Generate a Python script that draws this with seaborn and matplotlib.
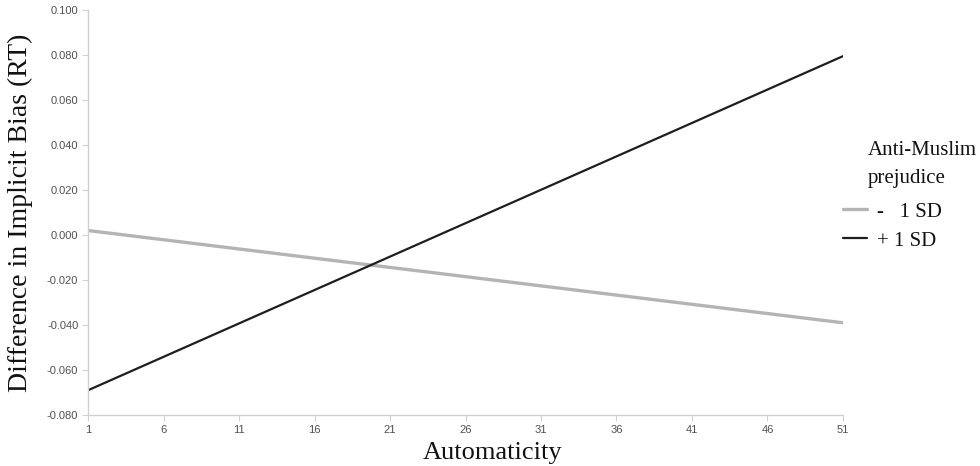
import matplotlib
matplotlib.use("Agg")
import matplotlib.pyplot as plt
import seaborn as sns
import pandas as pd
from matplotlib.lines import Line2D

# Data
automaticity = [1, 51]
low_prejudice = [0.002, -0.039]    # -1 SD
high_prejudice = [-0.069, 0.0795]  # +1 SD
series_labels = ["-   1 SD", "+ 1 SD"]
legend_title = ["Anti-Muslim", "prejudice"]
x_ticks = [1, 6, 11, 16, 21, 26, 31, 36, 41, 46, 51]
y_ticks = [-0.08, -0.06, -0.04, -0.02, 0.0, 0.02, 0.04, 0.06, 0.08, 0.10]

df = pd.DataFrame({
    "Automaticity": automaticity * 2,
    "Bias": low_prejudice + high_prejudice,
    "Group": [series_labels[0]] * 2 + [series_labels[1]] * 2,
})

colors = {series_labels[0]: "#b4b4b4", series_labels[1]: "#1e1e1e"}
widths = {series_labels[0]: 2.4, series_labels[1]: 1.6}

sns.set_style("white")
fig = plt.figure(figsize=(9.8, 4.66), dpi=100)
ax = fig.add_axes([0.0898, 0.1094, 0.7704, 0.8691])

sns.lineplot(data=df, x="Automaticity", y="Bias", hue="Group",
             palette=colors, ax=ax, legend=False)
for line, lab in zip(ax.lines, series_labels):
    line.set_linewidth(widths[lab])

ax.set_xlim(1, 51)
ax.set_ylim(-0.08, 0.10)
ax.set_xticks(x_ticks)
ax.set_xticklabels([str(t) for t in x_ticks])
ax.set_yticks(y_ticks)
ax.set_yticklabels([f"{t:.3f}" for t in y_ticks])

for side in ["top", "right"]:
    ax.spines[side].set_visible(False)
for side in ["left", "bottom"]:
    ax.spines[side].set_color("#d0d0d0")
    ax.spines[side].set_linewidth(1.0)

ax.tick_params(axis="both", which="major", length=4, width=0.8, color="#d0d0d0",
               labelsize=8, labelcolor="#505050", direction="out", pad=3,
               bottom=True, left=True)
for lbl in ax.get_xticklabels() + ax.get_yticklabels():
    lbl.set_fontfamily("Liberation Sans")

ax.set_xlabel("Automaticity", fontfamily="Liberation Serif", fontsize=19, color="#111111")
ax.set_ylabel("Difference in Implicit Bias (RT)", fontfamily="Liberation Serif", fontsize=20,
              color="#111111")
ax.xaxis.set_label_coords(0.536, -0.066)
ax.yaxis.set_label_coords(-0.073, 0.5)

# Legend title
fig.text(868 / 980, 1 - 150 / 466, legend_title[0], fontfamily="Liberation Serif",
         fontsize=15, va="center", ha="left", color="#111111")
fig.text(868 / 980, 1 - 178 / 466, legend_title[1], fontfamily="Liberation Serif",
         fontsize=15, va="center", ha="left", color="#111111")

handles = [Line2D([], [], color=colors[l], lw=widths[l]) for l in series_labels]
leg = fig.legend(handles, series_labels, loc="upper left",
                 bbox_to_anchor=(843 / 980, 1 - 202 / 466), frameon=False,
                 prop={"family": "Liberation Serif", "size": 15},
                 handlelength=1.15, handletextpad=0.5, labelspacing=0.45,
                 borderpad=0, borderaxespad=0)
for t in leg.get_texts():
    t.set_color("#111111")

fig.savefig("out.png", dpi=100)
